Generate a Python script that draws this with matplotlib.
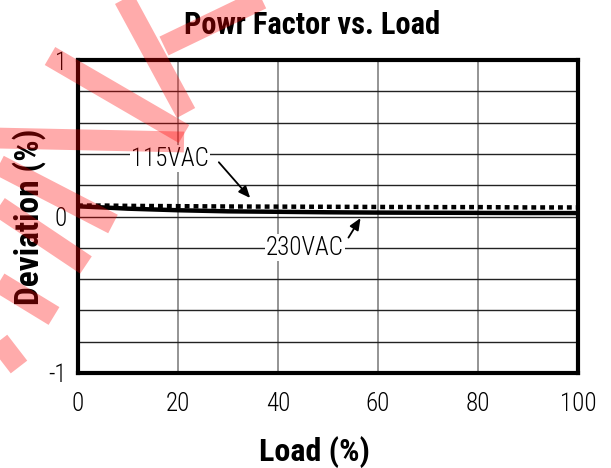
import numpy as np
import matplotlib
matplotlib.use("Agg")
import matplotlib.pyplot as plt
from matplotlib.lines import Line2D

plt.rcParams['font.family'] = ['Roboto Condensed', 'Sofia Sans Condensed', 'DejaVu Sans']
plt.rcParams['axes.unicode_minus'] = False

# data
load = [0, 5, 10, 20, 30, 40, 50, 60, 70, 80, 90, 100]
vac115 = [0.07, 0.07, 0.068, 0.066, 0.064, 0.063, 0.062, 0.061, 0.06, 0.06, 0.058, 0.058]
vac230 = [0.065, 0.058, 0.05, 0.04, 0.033, 0.03, 0.027, 0.025, 0.024, 0.023, 0.022, 0.022]
xticks = [0, 20, 40, 60, 80, 100]
yticks = [-1, 0, 1]

# red "stamp" strokes over the picture, in pixels of the 611x468 image
stamp = [((50, 56), (184, 134)),
         ((-5, 138), (184, 142)),
         ((-5, 163), (113, 224)),
         ((-5, 204), (86, 265)),
         ((-5, 280), (54, 316)),
         ((-8, 332), (19, 367)),
         ((122, -5), (186, 113)),
         ((270, -5), (164, 46))]

W, H = 611, 468
fig = plt.figure(figsize=(W / 100, H / 100), dpi=100)
ax = fig.add_axes([78 / W, 1 - 373 / H, 500 / W, 313 / H])

ax.plot(load, vac230, color='black', lw=3.2, solid_capstyle='butt', zorder=3)
ax.plot(load, vac115, color='black', lw=3.2, linestyle=(0, (1.1, 0.9)), zorder=4)

ax.set_xlim(0, 100)
ax.set_ylim(-1, 1)
ax.set_xticks(xticks)
ax.set_yticks(yticks)
ax.set_yticks(np.arange(-0.8, 0.81, 0.2), minor=True)
ax.tick_params(which='both', length=0, labelsize=18)
ax.tick_params(axis='x', pad=14)
ax.tick_params(axis='y', pad=8)
for lab in ax.get_xticklabels() + ax.get_yticklabels():
    lab.set_fontweight(300)
ax.grid(axis='x', which='major', color='#777777', lw=1.1)
ax.grid(axis='y', which='minor', color='#222222', lw=1.0)
ax.grid(axis='y', which='major', color='#222222', lw=1.0)
for s in ax.spines.values():
    s.set_linewidth(3)
    s.set_zorder(6)

ax.set_xlabel('Load (%)', fontsize=23, fontweight='bold', labelpad=10)
ax.xaxis.set_label_coords(0.472, -0.2)
ax.set_ylabel('Deviation (%)', fontsize=24, fontweight='bold', labelpad=2)
fig.text(312 / W, 1 - 25 / H, 'Powr Factor vs. Load', fontsize=22,
         fontweight='bold', ha='center', va='center')

box = dict(facecolor='white', edgecolor='none', pad=1)
ax.text(18.4, 0.37, '115VAC', fontsize=18, fontweight=300, ha='center', va='center', bbox=box, zorder=5)
ax.text(45.4, -0.2, '230VAC', fontsize=18, fontweight=300, ha='center', va='center', bbox=box, zorder=5)
arrow = dict(arrowstyle='-|>,head_length=0.7,head_width=0.3', color='black', lw=1.3)
ax.annotate('', xy=(34.8, 0.105), xytext=(27.8, 0.36), arrowprops=arrow, zorder=5)
ax.annotate('', xy=(56.8, 0.005), xytext=(53.8, -0.15), arrowprops=arrow, zorder=5)

for (x0, y0), (x1, y1) in stamp:
    fig.add_artist(Line2D([x0 / W, x1 / W], [1 - y0 / H, 1 - y1 / H],
                          transform=fig.transFigure, color='red', alpha=0.33,
                          lw=15, solid_capstyle='butt', zorder=20))

fig.savefig('out.png', dpi=100)
